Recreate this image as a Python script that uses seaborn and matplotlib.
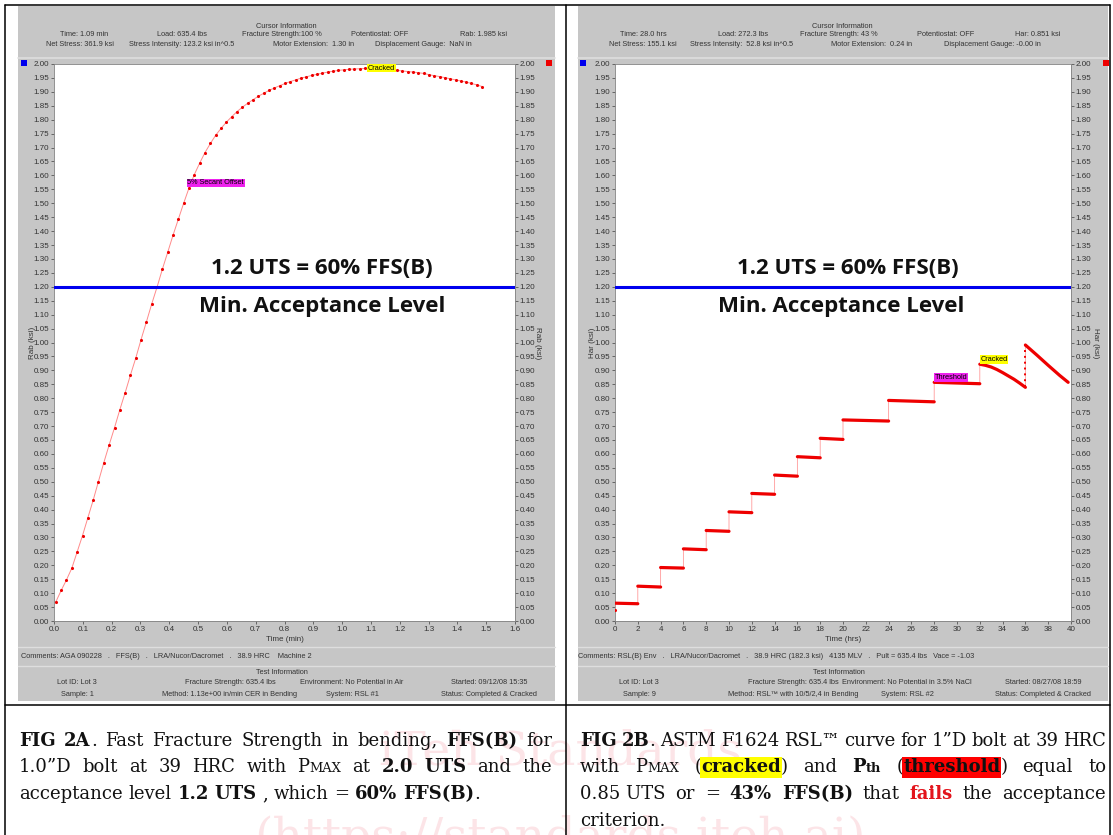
import numpy as np
import pandas as pd
import matplotlib
matplotlib.use("Agg")
import matplotlib.pyplot as plt
from matplotlib.patches import Rectangle
from matplotlib.lines import Line2D
from matplotlib.ticker import FormatStrFormatter
import seaborn as sns

sns.set_theme(style="white")
plt.rcParams['font.family'] = ['Liberation Sans', 'DejaVu Sans']

W, H = 1113, 835

# ---------------- data: FIG 2A (fast fracture, bending) ----------------
ffs_time = [0.006, 0.025, 0.043, 0.062, 0.080, 0.099, 0.117, 0.136, 0.154, 0.173,
            0.191, 0.210, 0.228, 0.247, 0.265, 0.284, 0.302, 0.321, 0.339, 0.358,
            0.376, 0.395, 0.413, 0.432, 0.450, 0.469, 0.487, 0.506, 0.524, 0.543,
            0.561, 0.580, 0.598, 0.617, 0.635, 0.654, 0.672, 0.691, 0.709, 0.728,
            0.746, 0.765, 0.783, 0.802, 0.820, 0.839, 0.857, 0.876, 0.894, 0.913,
            0.931, 0.950, 0.968, 0.987, 1.005, 1.024, 1.042, 1.061, 1.079, 1.098,
            1.116, 1.135, 1.153, 1.172, 1.190, 1.209, 1.227, 1.246, 1.264, 1.283,
            1.301, 1.320, 1.338, 1.357, 1.375, 1.394, 1.412, 1.431, 1.449, 1.468,
            1.486]
ffs_rab = [0.068, 0.110, 0.147, 0.190, 0.247, 0.307, 0.369, 0.434, 0.500, 0.569,
           0.631, 0.694, 0.757, 0.820, 0.882, 0.945, 1.010, 1.075, 1.138, 1.200,
           1.263, 1.325, 1.385, 1.444, 1.500, 1.556, 1.603, 1.645, 1.682, 1.715,
           1.744, 1.769, 1.791, 1.811, 1.829, 1.845, 1.859, 1.872, 1.884, 1.895,
           1.905, 1.914, 1.922, 1.930, 1.937, 1.943, 1.949, 1.954, 1.959, 1.963,
           1.967, 1.971, 1.974, 1.977, 1.979, 1.981, 1.982, 1.983, 1.984, 1.985,
           1.985, 1.984, 1.982, 1.980, 1.977, 1.975, 1.973, 1.971, 1.969, 1.966,
           1.962, 1.958, 1.955, 1.951, 1.947, 1.943, 1.939, 1.935, 1.930, 1.925,
           1.919]
ffs_secant_label = (0.463, 1.573)
ffs_cracked_label = (1.089, 1.985)

# ---------------- data: FIG 2B (RSL step loading) ----------------
rsl_first_point = (0.0, 0.040)
rsl_step_start = [0, 2, 4, 6, 8, 10, 12, 14, 16, 18, 20, 24, 28]
rsl_step_end = [2, 4, 6, 8, 10, 12, 14, 16, 18, 20, 24, 28, 32]
rsl_step_v0 = [0.064, 0.125, 0.192, 0.259, 0.325, 0.392, 0.458, 0.524, 0.590, 0.656, 0.722, 0.792, 0.857]
rsl_step_v1 = [0.062, 0.122, 0.190, 0.256, 0.322, 0.389, 0.455, 0.520, 0.586, 0.652, 0.718, 0.787, 0.852]
rsl_crack_time = [32.0, 32.5, 33.0, 33.5, 34.0, 34.5, 35.0, 35.5, 36.0]
rsl_crack_har = [0.922, 0.918, 0.912, 0.903, 0.892, 0.880, 0.868, 0.854, 0.839]
rsl_reload_time = [36.0, 37.0, 38.0, 39.0, 39.75]
rsl_reload_har = [0.991, 0.955, 0.918, 0.882, 0.857]
rsl_threshold_label = (28.05, 0.874)
rsl_cracked_label = (32.05, 0.939)

acceptance_level = 1.2

# ---------------- figure ----------------
fig = plt.figure(figsize=(W / 100, H / 100), dpi=100)
fig.patch.set_facecolor('white')

PANEL = '#c6c6c6'
TXT = '#333333'
SMALL = 5.3


def fx(x):
    return x / W


def fy(y):
    return 1 - y / H


def rect(x0, y0, x1, y1, **kw):
    fig.add_artist(Rectangle((fx(x0), fy(y1)), (x1 - x0) / W, (y1 - y0) / H,
                             transform=fig.transFigure, **kw))


def hline(x0, x1, y, **kw):
    fig.add_artist(Line2D([fx(x0), fx(x1)], [fy(y), fy(y)], transform=fig.transFigure, **kw))


def vline(x, y0, y1, **kw):
    fig.add_artist(Line2D([fx(x), fx(x)], [fy(y0), fy(y1)], transform=fig.transFigure, **kw))


def itext(x, y, s, ha='center', **kw):
    fig.text(fx(x), fy(y), s, ha=ha, va='center', fontsize=SMALL, color=TXT, **kw)


# faint watermark of the source document
fig.text(fx(560), fy(752), "iTeh Standards", ha='center', va='center', fontsize=34,
         family='DejaVu Serif', color='#fce4e7', zorder=0)
fig.text(fx(560), fy(838), "(https://standards.iteh.ai)", ha='center', va='center', fontsize=34,
         family='DejaVu Serif', color='#fce4e7', zorder=0)

# panels
panels = [dict(x0=18, x1=555, ax0=54, ax1=515), dict(x0=578, x1=1108, ax0=615, ax1=1071)]
for p in panels:
    rect(p['x0'], 6, p['x1'], 701, facecolor=PANEL, edgecolor='none', zorder=0)
    hline(p['x0'], p['x1'], 58, color='#dedede', lw=1.2)
    hline(p['x0'], p['x1'], 647, color='#dedede', lw=1.0)
    hline(p['x0'], p['x1'], 666, color='#dedede', lw=1.0)

# table borders
for x in (4.5, 566, 1110):
    vline(x, 4.5, 835, color='black', lw=1.1)
hline(4.5, 1110, 4.5, color='black', lw=1.1)
hline(4.5, 1110, 705, color='black', lw=1.1)

# top info
itext(286, 27, "Cursor Information")
itext(84, 34, "Time: 1.09 min")
itext(182, 34, "Load: 635.4 lbs")
itext(282, 34, "Fracture Strength:100 %")
itext(380, 34, "Potentiostat: OFF")
itext(484, 34, "Rab: 1.985 ksi")
itext(80, 45, "Net Stress: 361.9 ksi")
itext(182, 45, "Stress Intensity: 123.2 ksi in^0.5")
itext(314, 45, "Motor Extension:  1.30 in")
itext(423, 45, "Displacement Gauge:  NaN in")

itext(842, 27, "Cursor Information")
itext(643, 34, "Time: 28.0 hrs")
itext(743, 34, "Load: 272.3 lbs")
itext(839, 34, "Fracture Strength: 43 %")
itext(946, 34, "Potentiostat: OFF")
itext(1038, 34, "Har: 0.851 ksi")
itext(643, 45, "Net Stress: 155.1 ksi")
itext(742, 45, "Stress Intensity:  52.8 ksi in^0.5")
itext(872, 45, "Motor Extension:  0.24 in")
itext(992, 45, "Displacement Gauge: -0.00 in")

# bottom info
itext(21, 656, "Comments: AGA 090228   .   FFS(B)   .   LRA/Nucor/Dacromet   .   38.9 HRC    Machine 2", ha='left')
itext(282, 672, "Test Information")
itext(77, 682, "Lot ID: Lot 3")
itext(230, 682, "Fracture Strength: 635.4 lbs")
itext(352, 682, "Environment: No Potential in Air")
itext(489, 682, "Started: 09/12/08 15:35")
itext(77, 694, "Sample: 1")
itext(230, 694, "Method: 1.13e+00 in/min CER in Bending")
itext(352, 694, "System: RSL #1")
itext(489, 694, "Status: Completed & Cracked")

itext(578, 656, "Comments: RSL(B) Env   .   LRA/Nucor/Dacromet   .   38.9 HRC (182.3 ksi)   4135 MLV   .   Pult = 635.4 lbs   Vace = -1.03", ha='left')
itext(839, 672, "Test Information")
itext(639, 682, "Lot ID: Lot 3")
itext(793, 682, "Fracture Strength: 635.4 lbs")
itext(907, 682, "Environment: No Potential in 3.5% NaCl")
itext(1043, 682, "Started: 08/27/08 18:59")
itext(639, 694, "Sample: 9")
itext(793, 694, "Method: RSL\u2122 with 10/5/2,4 in Bending")
itext(907, 694, "System: RSL #2")
itext(1043, 694, "Status: Completed & Cracked")

# corner squares
for (x, c) in [(24, '#0000ee'), (549, '#ee0000'), (583, '#0000ee'), (1106, '#ee0000')]:
    rect(x - 3, 60, x + 3, 66, facecolor=c, edgecolor='none')


def make_axes(p):
    ax = fig.add_axes([fx(p['ax0']), fy(621), (p['ax1'] - p['ax0']) / W, (621 - 64) / H])
    ax.set_facecolor('white')
    for sp in ax.spines.values():
        sp.set_color('#808080')
        sp.set_linewidth(0.6)
    ax.tick_params(axis='both', which='both', direction='out', length=2.5, width=0.6,
                   color='#555555', labelsize=5.8, labelcolor=TXT, pad=1)
    ax.tick_params(axis='y', left=True, right=True, labelleft=True, labelright=True)
    ax.tick_params(axis='x', bottom=True)
    ax.set_ylim(0, 2.0)
    ax.set_yticks(np.round(np.arange(0, 2.0001, 0.05), 2))
    ax.yaxis.set_major_formatter(FormatStrFormatter('%.2f'))
    ax.grid(False)
    return ax


big = dict(family=['Open Sans', 'DejaVu Sans'], fontweight='bold', fontsize=16, color='#111111',
           ha='center', va='center')
lab = dict(fontsize=5.3, color='black', ha='left', va='center', zorder=6)

# ---------------- left chart ----------------
axL = make_axes(panels[0])
df_ffs = pd.DataFrame({'time': ffs_time, 'rab': ffs_rab})
sns.lineplot(data=df_ffs, x='time', y='rab', ax=axL, color='#ff8a8a', lw=0.7,
             estimator=None, sort=False, zorder=3)
sns.scatterplot(data=df_ffs, x='time', y='rab', ax=axL, color='#ee0000', s=5,
                linewidth=0, zorder=4)
axL.axhline(acceptance_level, color='#0000ee', lw=2.2, zorder=5)
axL.set_xlim(0, 1.6)
axL.set_xticks(np.round(np.arange(0, 1.6001, 0.1), 1))
axL.xaxis.set_major_formatter(FormatStrFormatter('%.1f'))
axL.set_xlabel("Time (min)", fontsize=5.8, color=TXT, labelpad=2)
axL.set_ylabel("")
axL.text(0.93, 1.267, "1.2 UTS = 60% FFS(B)", **big)
axL.text(0.93, 1.131, "Min. Acceptance Level", **big)
axL.text(*ffs_secant_label, "5% Secant Offset",
         bbox=dict(facecolor='#ee22ee', edgecolor='none', pad=0.6), **lab)
axL.text(*ffs_cracked_label, "Cracked",
         bbox=dict(facecolor='#ffff00', edgecolor='none', pad=0.6), **lab)
fig.text(fx(33), fy(343), "Rab (ksi)", rotation=90, ha='center', va='center', fontsize=5.8, color=TXT)
fig.text(fx(537), fy(343), "Rab (ksi)", rotation=270, ha='center', va='center', fontsize=5.8, color=TXT)

# ---------------- right chart ----------------
axR = make_axes(panels[1])
conn_t = [rsl_first_point[0]]
conn_v = [rsl_first_point[1]]
for s, e, v0, v1 in zip(rsl_step_start, rsl_step_end, rsl_step_v0, rsl_step_v1):
    conn_t += [s, e]
    conn_v += [v0, v1]
conn_t += rsl_crack_time + rsl_reload_time
conn_v += rsl_crack_har + rsl_reload_har
df_conn = pd.DataFrame({'time': conn_t, 'har': conn_v})
sns.lineplot(data=df_conn, x='time', y='har', ax=axR, color='#ff9a9a', lw=0.6,
             estimator=None, sort=False, zorder=3)
for s, e, v0, v1 in zip(rsl_step_start, rsl_step_end, rsl_step_v0, rsl_step_v1):
    sns.lineplot(x=[s, e], y=[v0, v1], ax=axR, color='#ee0000', lw=2.3,
                 estimator=None, sort=False, zorder=4)
sns.lineplot(x=rsl_crack_time, y=rsl_crack_har, ax=axR, color='#ee0000', lw=2.3,
             estimator=None, sort=False, zorder=4)
sns.lineplot(x=rsl_reload_time, y=rsl_reload_har, ax=axR, color='#ee0000', lw=2.3,
             estimator=None, sort=False, zorder=4)
sns.lineplot(x=[rsl_crack_time[-1], rsl_reload_time[0]], y=[rsl_crack_har[-1], rsl_reload_har[0]],
             ax=axR, color='#ee0000', lw=1.4, ls=(0, (1, 2)), estimator=None, sort=False, zorder=4)
sns.scatterplot(x=[rsl_first_point[0]], y=[rsl_first_point[1]], ax=axR, color='#ee0000', s=5,
                linewidth=0, zorder=4)
axR.axhline(acceptance_level, color='#0000ee', lw=2.2, zorder=5)
axR.set_xlim(0, 40)
axR.set_xticks(np.arange(0, 41, 2))
axR.xaxis.set_major_formatter(FormatStrFormatter('%d'))
axR.set_xlabel("Time (hrs)", fontsize=5.8, color=TXT, labelpad=2)
axR.set_ylabel("")
axR.text(20.4, 1.267, "1.2 UTS = 60% FFS(B)", **big)
axR.text(19.8, 1.131, "Min. Acceptance Level", **big)
axR.text(*rsl_threshold_label, "Threshold",
         bbox=dict(facecolor='#ee22ee', edgecolor='none', pad=0.6), **lab)
axR.text(*rsl_cracked_label, "Cracked",
         bbox=dict(facecolor='#ffff00', edgecolor='none', pad=0.6), **lab)
fig.text(fx(593), fy(343), "Har (ksi)", rotation=90, ha='center', va='center', fontsize=5.8, color=TXT)
fig.text(fx(1096), fy(343), "Har (ksi)", rotation=270, ha='center', va='center', fontsize=5.8, color=TXT)

# ---------------- captions (justified) ----------------
renderer = fig.canvas.get_renderer()
FS = 13
N = dict(family='DejaVu Serif', fontsize=FS, color='#111111')
B = dict(N, fontweight='bold')
SC = dict(N, fontsize=FS * 0.72)
BS = dict(B, fontsize=FS * 0.72)
HY = dict(B, bbox=dict(facecolor='#ffff00', edgecolor='none', pad=0.8))
HR = dict(B, bbox=dict(facecolor='#ff0000', edgecolor='none', pad=0.8))
RB = dict(B, color='#e3141c')


def measure(s, kw):
    t = fig.text(0, 0, s, **kw)
    w = t.get_window_extent(renderer=renderer).width
    t.remove()
    return w


space_w = measure("a a", N) - measure("aa", N)


def w_(*runs):
    return list(runs)


def draw_line(words, x0, x1, yb, justify=True):
    widths = [sum(measure(s, kw) for s, kw in w) for w in words]
    if justify and len(words) > 1:
        gap = (x1 - x0 - sum(widths)) / (len(words) - 1)
    else:
        gap = space_w
    x = x0
    for w, ww in zip(words, widths):
        xx = x
        for s, kw in w:
            fig.text(fx(xx), fy(yb), s, ha='left', va='baseline', zorder=3, **kw)
            xx += measure(s, kw)
        x += ww + gap


def simple(text, kw=N):
    return [[(t, kw)] for t in text.split()]


LX0, LX1 = 19, 552
RX0, RX1 = 580, 1106
Y0, DY = 746, 26.5

draw_line([w_(("FIG", B)), w_(("2A", B), (".", N))] + simple("Fast Fracture Strength in bending,")
          + [w_(("FFS(B)", B)), w_(("for", N))], LX0, LX1, Y0)
draw_line(simple("1.0\u201dD bolt at 39 HRC with") + [w_(("P", N), ("MAX", SC)), w_(("at", N)),
          w_(("2.0", B)), w_(("UTS", B))] + simple("and the"), LX0, LX1, Y0 + DY)
draw_line(simple("acceptance level") + [w_(("1.2", B)), w_(("UTS", B)), w_((",", N))]
          + simple("which =") + [w_(("60%", B)), w_(("FFS(B)", B), (".", N))],
          LX0, LX1, Y0 + 2 * DY, justify=False)

draw_line([w_(("FIG", B)), w_(("2B", B), (".", N))] + simple("ASTM F1624 RSL\u2122 curve for 1\u201dD bolt at 39 HRC"),
          RX0, RX1, Y0)
draw_line([w_(("with", N)), w_(("P", N), ("MAX", SC)), w_(("(", N), ("cracked", HY), (")", N)),
           w_(("and", N)), w_(("P", B), ("th", BS)), w_(("(", N), ("threshold", HR), (")", N)),
           w_(("equal", N)), w_(("to", N))], RX0, RX1, Y0 + DY)
draw_line([w_(("0.85\u00a0UTS", N)), w_(("or", N)), w_(("=", N)), w_(("43%", B)), w_(("FFS(B)", B)),
           w_(("that", N)), w_(("fails", RB)), w_(("the", N)), w_(("acceptance", N))],
          RX0, RX1, Y0 + 2 * DY)
draw_line([w_(("criterion.", N))], RX0, RX1, Y0 + 3 * DY, justify=False)

fig.savefig("out.png", dpi=100, facecolor='white')
